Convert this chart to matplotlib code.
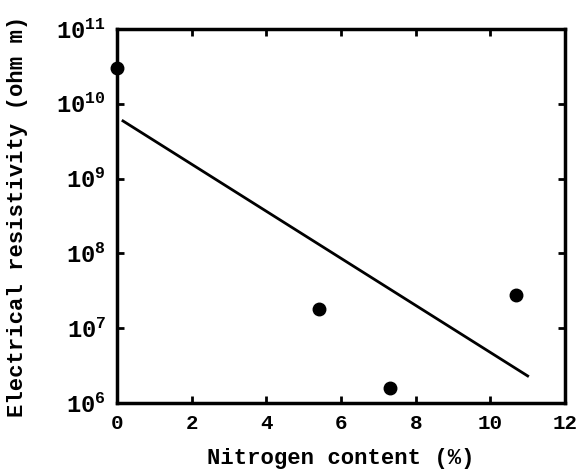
import matplotlib
matplotlib.use('Agg')
import matplotlib.pyplot as plt
from matplotlib.ticker import LogLocator, FixedLocator, NullLocator

# Datos
nitrogen = [0.0, 5.4, 7.3, 10.7]
resistivity = [3.0e10, 1.8e7, 1.6e6, 2.75e7]

fit_x = [0.16, 11.0]
fit_y = [5.9e9, 2.3e6]

x_ticks = [0, 2, 4, 6, 8, 10, 12]

plt.rcParams['font.family'] = ['Liberation Mono', 'DejaVu Sans Mono']
plt.rcParams['font.weight'] = 'bold'
plt.rcParams['mathtext.fontset'] = 'custom'
plt.rcParams['mathtext.rm'] = 'Liberation Mono:bold'
plt.rcParams['mathtext.it'] = 'Liberation Mono:bold'
plt.rcParams['mathtext.bf'] = 'Liberation Mono:bold'
plt.rcParams['mathtext.default'] = 'rm'

fig = plt.figure(figsize=(5.79, 4.69), dpi=100)
ax = fig.add_axes([117 / 579, 1 - 403 / 469, 448 / 579, 374 / 469])

ax.plot(nitrogen, resistivity, 'o', color='black', markersize=9, clip_on=False, zorder=5)
ax.plot(fit_x, fit_y, color='black', linewidth=2)

ax.set_yscale('log')
ax.set_xlim(0, 12)
ax.set_ylim(1e6, 1e11)
ax.xaxis.set_major_locator(FixedLocator(x_ticks))
ax.yaxis.set_major_locator(LogLocator(base=10, numticks=10))
ax.yaxis.set_minor_locator(NullLocator())

for s in ax.spines.values():
    s.set_linewidth(2.5)
ax.tick_params(direction='in', top=True, right=True, width=2, length=5, pad=6)
ax.tick_params(axis='x', labelsize=15, pad=8)
ax.tick_params(axis='y', labelsize=17, pad=8)
for lab in ax.get_xticklabels() + ax.get_yticklabels():
    lab.set_fontweight('bold')

ax.set_xlabel('Nitrogen content (%)', fontsize=16, fontweight='bold', labelpad=11)
ax.set_ylabel('Electrical resistivity (ohm m)', fontsize=16, fontweight='bold', labelpad=20)

fig.savefig('out.png', dpi=100)
